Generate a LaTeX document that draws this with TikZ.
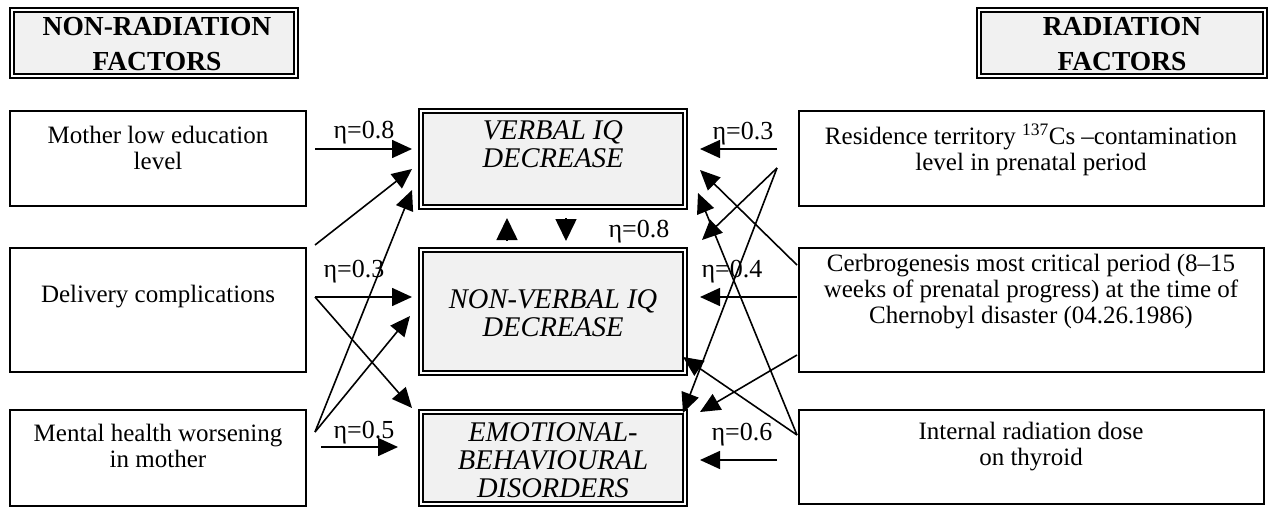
\documentclass[tikz,border=0pt]{standalone}
\usepackage{fontspec}
\setmainfont{Liberation Serif}
\usetikzlibrary{arrows.meta,calc}
\definecolor{boxgray}{HTML}{F1F1F1}
\begin{document}
\begin{tikzpicture}[x=1pt,y=-1pt,
 plainbox/.style={draw,line width=1.8pt,inner sep=0pt},
 midbox/.style={draw,fill=boxgray,double,double distance=2.4pt,line width=1.8pt,inner sep=0pt,outer sep=3pt},
 headbox/.style={draw,fill=boxgray,double,double distance=1.8pt,line width=2.1pt,inner sep=0pt,outer sep=3pt},
 bodytxt/.style={font=\fontsize{25}{26}\selectfont,align=center,inner sep=0pt},
 midtxt/.style={font=\fontsize{28.5}{28}\selectfont\itshape,align=center,inner sep=0pt},
 headtxt/.style={font=\fontsize{27.5}{35}\selectfont\bfseries,align=center,inner sep=0pt},
 eta/.style={font=\fontsize{26}{28}\selectfont,inner sep=0pt},
 arr/.style={line width=1.6pt,-{Triangle[length=20pt,width=18pt]}},
 bigtip/.style={line width=1.6pt,-{Triangle[length=22pt,width=21pt]}}]
\useasboundingbox (0,0) rectangle (1274,508);
% headers
\node[headbox,minimum width=284pt,minimum height=66pt] (hl) at (154,43) {};
\node[headbox,minimum width=286pt,minimum height=66pt] (hr) at (1122,43) {};
\node[headtxt] (hlt) at (157,44.5) {NON-RADIATION\\FACTORS};
\node[headtxt] (hrt) at (1122,44.5) {RADIATION\\FACTORS};
% left boxes
\node[plainbox,minimum width=296.2pt,minimum height=95.2pt] (mother) at (158,158.5) {};
\node[plainbox,minimum width=296.2pt,minimum height=124.2pt] (delivery) at (158,310) {};
\node[plainbox,minimum width=296.2pt,minimum height=96.2pt] (mental) at (158,458) {};
\node[bodytxt] (mothert) at (158,147.5) {Mother low education\\level};
\node[bodytxt] (deliveryt) at (158,297) {Delivery complications};
\node[bodytxt] (mentalt) at (158,446) {Mental health worsening\\in mother};
% right boxes
\node[plainbox,minimum width=465.2pt,minimum height=95.2pt] (residence) at (1031.5,158.5) {};
\node[plainbox,minimum width=465.2pt,minimum height=124.2pt] (cerbro) at (1031.5,310) {};
\node[plainbox,minimum width=465.2pt,minimum height=94.2pt] (internal) at (1031.5,457) {};
\node[bodytxt] (residencet) at (1031,149.5) {Residence territory \textsuperscript{137}Cs –contamination\\level in prenatal period};
\node[bodytxt] (cerbrot) at (1031,292) {Cerbrogenesis most critical period (8–15\\weeks of prenatal progress) at the time of\\Chernobyl disaster (04.26.1986)};
\node[bodytxt] (internalt) at (1031,446.5) {Internal radiation dose\\on thyroid};
% middle boxes
\node[midbox,minimum width=264pt,minimum height=96pt] (verbal) at (553,159) {};
\node[midbox,minimum width=264pt,minimum height=123pt] (nonverbal) at (553,311.5) {};
\node[midbox,minimum width=264pt,minimum height=92pt] (emotional) at (553,458) {};
\node[midtxt] (verbalt) at (553,144) {VERBAL IQ\\DECREASE};
\node[midtxt] (nonverbalt) at (553,313.5) {NON-VERBAL IQ\\DECREASE};
\node[midtxt] (emotionalt) at (553,460) {EMOTIONAL-\\BEHAVIOURAL\\DISORDERS};
% left arrows
\draw[arr] ($(mother.north east)+(8,39)$) -- ($(verbal.north west)+(-6,41)$);
\draw[arr] ($(delivery.north east)+(8,-2)$) -- ($(verbal.north west)+(-6,61)$);
\draw[arr] ($(mental.north east)+(8,23)$) -- ($(verbal.north west)+(-6,82)$);
\draw[arr] ($(delivery.north east)+(8,50)$) -- ($(nonverbal.north west)+(-6,50)$);
\draw[arr] ($(delivery.north east)+(8,50)$) -- ($(emotional.north west)+(-6,-1)$);
\draw[arr] ($(mental.north east)+(8,23)$) -- ($(nonverbal.north west)+(-8,69)$);
\draw[arr] ($(mental.north east)+(14,38)$) -- ($(emotional.north west)+(-20,38)$);
% between verbal and non-verbal
\draw[bigtip] ($(nonverbal.north west)+(89,-6)$) -- ($(verbal.south west)+(89,8)$);
\draw[bigtip] ($(verbal.south west)+(148,8)$) -- ($(nonverbal.north west)+(148,-6)$);
% right arrows
\draw[arr] ($(residence.north west)+(-21,39)$) -- ($(verbal.north east)+(12,41)$);
\draw[arr] ($(residence.north west)+(-21,58)$) -- ($(nonverbal.north east)+(14,-7)$);
\draw[arr] ($(residence.north west)+(-21,58)$) -- ($(emotional.north east)+(-5,4)$);
\draw[arr] ($(cerbro.north west)+(-1,18)$) -- ($(verbal.north east)+(12,62)$);
\draw[arr] ($(internal.north west)+(-1,26)$) -- ($(verbal.north east)+(10,85)$);
\draw[arr] ($(cerbro.north west)+(-1,50)$) -- ($(nonverbal.north east)+(12,50)$);
\draw[arr] ($(cerbro.north west)+(-1,108)$) -- ($(emotional.north east)+(12,3)$);
\draw[arr] ($(internal.north west)+(-1,26)$) -- ($(nonverbal.north east)+(-5,110)$);
\draw[arr] ($(internal.north west)+(-21,51)$) -- ($(emotional.north east)+(12,51)$);
% labels
\node[eta] (e1) at (364,133) {η=0.8};
\node[eta] (e2) at (354,272) {η=0.3};
\node[eta] (e3) at (364,433) {η=0.5};
\node[eta] (e4) at (639,232) {η=0.8};
\node[eta] (e5) at (743,134) {η=0.3};
\node[eta] (e6) at (732,272) {η=0.4};
\node[eta] (e7) at (742,435) {η=0.6};
\end{tikzpicture}
\end{document}
